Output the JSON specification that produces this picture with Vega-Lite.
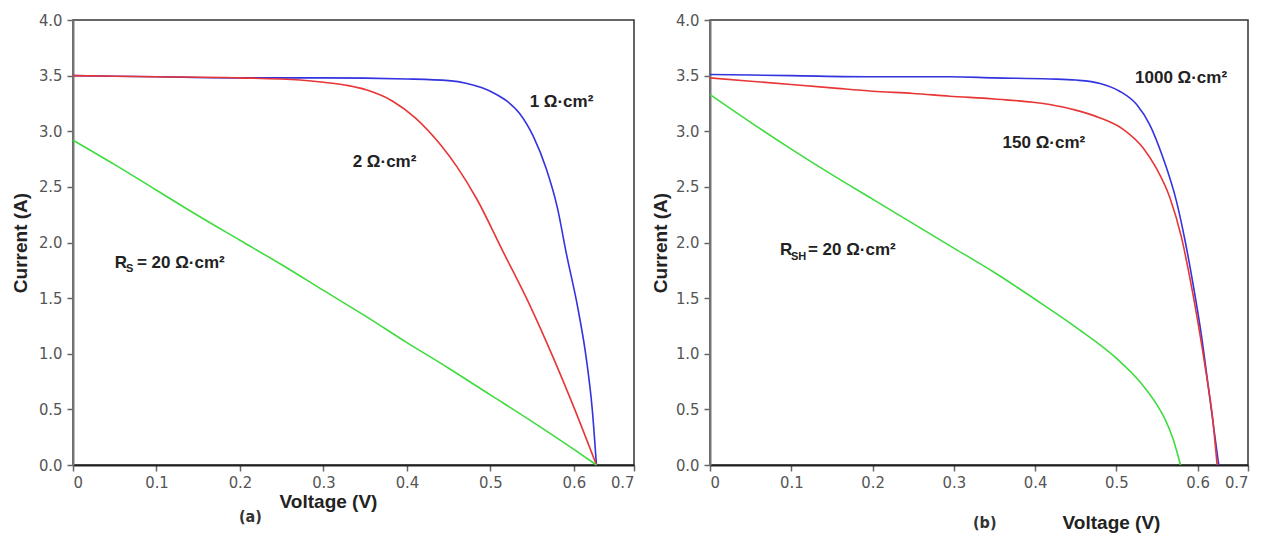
{
  "$schema": "https://vega.github.io/schema/vega-lite/v6.json",
  "background": "white",
  "padding": {"left": 10, "top": 11, "right": 0, "bottom": 0},
  "spacing": 76,
  "bounds": "flush",
  "resolve": {"scale": {"x": "independent", "y": "independent"}},
  "config": {
    "view": {"stroke": "#333", "strokeWidth": 1.5},
    "axis": {
      "grid": false,
      "labelFont": "DejaVu Sans Condensed",
      "labelFontSize": 16.5,
      "labelColor": "#555",
      "tickColor": "#666",
      "tickSize": 6,
      "tickWidth": 1.5,
      "domainColor": "#777",
      "domainWidth": 2,
      "titleFont": "Liberation Sans",
      "titleFontWeight": "bold",
      "titleFontSize": 19,
      "titleColor": "#222"
    },
    "title": {"font": "DejaVu Sans Condensed", "fontSize": 16, "fontWeight": "bold", "color": "#333"}
  },
  "datasets": {
    "curvesA": [
      {"series": "Rs1", "V": 0, "I": 3.5},
      {"series": "Rs1", "V": 0.1, "I": 3.49},
      {"series": "Rs1", "V": 0.2, "I": 3.48},
      {"series": "Rs1", "V": 0.3, "I": 3.48},
      {"series": "Rs1", "V": 0.4, "I": 3.47},
      {"series": "Rs1", "V": 0.45, "I": 3.455},
      {"series": "Rs1", "V": 0.472, "I": 3.43},
      {"series": "Rs1", "V": 0.49, "I": 3.39},
      {"series": "Rs1", "V": 0.505, "I": 3.34},
      {"series": "Rs1", "V": 0.52, "I": 3.27},
      {"series": "Rs1", "V": 0.535, "I": 3.16},
      {"series": "Rs1", "V": 0.551, "I": 2.96},
      {"series": "Rs1", "V": 0.567, "I": 2.66},
      {"series": "Rs1", "V": 0.58, "I": 2.32},
      {"series": "Rs1", "V": 0.591, "I": 1.9},
      {"series": "Rs1", "V": 0.605, "I": 1.4},
      {"series": "Rs1", "V": 0.615, "I": 0.95},
      {"series": "Rs1", "V": 0.622, "I": 0.5},
      {"series": "Rs1", "V": 0.627, "I": 0},
      {"series": "Rs2", "V": 0, "I": 3.5},
      {"series": "Rs2", "V": 0.1, "I": 3.49},
      {"series": "Rs2", "V": 0.2, "I": 3.48},
      {"series": "Rs2", "V": 0.272, "I": 3.46},
      {"series": "Rs2", "V": 0.3, "I": 3.44},
      {"series": "Rs2", "V": 0.33, "I": 3.41},
      {"series": "Rs2", "V": 0.352, "I": 3.37},
      {"series": "Rs2", "V": 0.383, "I": 3.27},
      {"series": "Rs2", "V": 0.41, "I": 3.12},
      {"series": "Rs2", "V": 0.44, "I": 2.88},
      {"series": "Rs2", "V": 0.46, "I": 2.68},
      {"series": "Rs2", "V": 0.483, "I": 2.4},
      {"series": "Rs2", "V": 0.515, "I": 1.92},
      {"series": "Rs2", "V": 0.547, "I": 1.44},
      {"series": "Rs2", "V": 0.575, "I": 0.97},
      {"series": "Rs2", "V": 0.601, "I": 0.5},
      {"series": "Rs2", "V": 0.627, "I": 0},
      {"series": "Rs20", "V": 0, "I": 2.92},
      {"series": "Rs20", "V": 0.05, "I": 2.7},
      {"series": "Rs20", "V": 0.1, "I": 2.47},
      {"series": "Rs20", "V": 0.15, "I": 2.24},
      {"series": "Rs20", "V": 0.2, "I": 2.02},
      {"series": "Rs20", "V": 0.25, "I": 1.8},
      {"series": "Rs20", "V": 0.3, "I": 1.57},
      {"series": "Rs20", "V": 0.35, "I": 1.34},
      {"series": "Rs20", "V": 0.4, "I": 1.1},
      {"series": "Rs20", "V": 0.45, "I": 0.87},
      {"series": "Rs20", "V": 0.5, "I": 0.63},
      {"series": "Rs20", "V": 0.55, "I": 0.39},
      {"series": "Rs20", "V": 0.6, "I": 0.14},
      {"series": "Rs20", "V": 0.627, "I": 0}
    ],
    "curvesB": [
      {"series": "Rsh1000", "V": 0, "I": 3.51},
      {"series": "Rsh1000", "V": 0.1, "I": 3.5},
      {"series": "Rsh1000", "V": 0.2, "I": 3.49},
      {"series": "Rsh1000", "V": 0.295, "I": 3.49},
      {"series": "Rsh1000", "V": 0.35, "I": 3.48},
      {"series": "Rsh1000", "V": 0.418, "I": 3.47},
      {"series": "Rsh1000", "V": 0.45, "I": 3.46},
      {"series": "Rsh1000", "V": 0.48, "I": 3.43},
      {"series": "Rsh1000", "V": 0.504, "I": 3.36},
      {"series": "Rsh1000", "V": 0.525, "I": 3.24},
      {"series": "Rsh1000", "V": 0.541, "I": 3.06},
      {"series": "Rsh1000", "V": 0.557, "I": 2.77},
      {"series": "Rsh1000", "V": 0.574, "I": 2.37},
      {"series": "Rsh1000", "V": 0.585, "I": 2.0},
      {"series": "Rsh1000", "V": 0.595, "I": 1.6},
      {"series": "Rsh1000", "V": 0.605, "I": 1.15},
      {"series": "Rsh1000", "V": 0.615, "I": 0.6},
      {"series": "Rsh1000", "V": 0.626, "I": 0},
      {"series": "Rsh150", "V": 0, "I": 3.48},
      {"series": "Rsh150", "V": 0.05, "I": 3.45},
      {"series": "Rsh150", "V": 0.1, "I": 3.42},
      {"series": "Rsh150", "V": 0.15, "I": 3.39},
      {"series": "Rsh150", "V": 0.2, "I": 3.36},
      {"series": "Rsh150", "V": 0.25, "I": 3.34},
      {"series": "Rsh150", "V": 0.295, "I": 3.315},
      {"series": "Rsh150", "V": 0.35, "I": 3.29},
      {"series": "Rsh150", "V": 0.418, "I": 3.24},
      {"series": "Rsh150", "V": 0.45, "I": 3.19},
      {"series": "Rsh150", "V": 0.48, "I": 3.12},
      {"series": "Rsh150", "V": 0.508, "I": 3.02},
      {"series": "Rsh150", "V": 0.533, "I": 2.85},
      {"series": "Rsh150", "V": 0.549, "I": 2.67},
      {"series": "Rsh150", "V": 0.566, "I": 2.4},
      {"series": "Rsh150", "V": 0.58, "I": 2.05},
      {"series": "Rsh150", "V": 0.59, "I": 1.7},
      {"series": "Rsh150", "V": 0.6, "I": 1.3},
      {"series": "Rsh150", "V": 0.61, "I": 0.85},
      {"series": "Rsh150", "V": 0.618, "I": 0.45},
      {"series": "Rsh150", "V": 0.624, "I": 0},
      {"series": "Rsh20", "V": 0, "I": 3.33},
      {"series": "Rsh20", "V": 0.05, "I": 3.08},
      {"series": "Rsh20", "V": 0.1, "I": 2.84},
      {"series": "Rsh20", "V": 0.15, "I": 2.61},
      {"series": "Rsh20", "V": 0.2, "I": 2.39},
      {"series": "Rsh20", "V": 0.25, "I": 2.17},
      {"series": "Rsh20", "V": 0.3, "I": 1.95},
      {"series": "Rsh20", "V": 0.35, "I": 1.73},
      {"series": "Rsh20", "V": 0.4, "I": 1.49},
      {"series": "Rsh20", "V": 0.45, "I": 1.24},
      {"series": "Rsh20", "V": 0.5, "I": 0.96},
      {"series": "Rsh20", "V": 0.53, "I": 0.74},
      {"series": "Rsh20", "V": 0.55, "I": 0.54},
      {"series": "Rsh20", "V": 0.56, "I": 0.41},
      {"series": "Rsh20", "V": 0.57, "I": 0.23},
      {"series": "Rsh20", "V": 0.579, "I": 0}
    ],
    "labelsA": [
      {"V": 0.547, "I": 3.26, "text": "1 Ω·cm²", "role": "main"},
      {"V": 0.335, "I": 2.72, "text": "2 Ω·cm²", "role": "main"},
      {"V": 0.05, "I": 1.82, "text": "R", "role": "main"},
      {"V": 0.0635, "I": 1.76, "text": "S", "role": "sub"},
      {"V": 0.0766, "I": 1.82, "text": "= 20 Ω·cm²", "role": "main"}
    ],
    "labelsB": [
      {"V": 0.523, "I": 3.48, "text": "1000 Ω·cm²", "role": "main"},
      {"V": 0.36, "I": 2.89, "text": "150 Ω·cm²", "role": "main"},
      {"V": 0.086, "I": 1.93, "text": "R", "role": "main"},
      {"V": 0.0996, "I": 1.87, "text": "SH", "role": "sub"},
      {"V": 0.1205, "I": 1.93, "text": "= 20 Ω·cm²", "role": "main"}
    ]
  },
  "hconcat": [
    {
      "width": 561,
      "height": 445,
      "title": {"text": "(a)", "orient": "bottom", "anchor": "start", "frame": "group", "offset": -2, "dx": 166},
      "resolve": {"scale": {"x": "shared", "y": "shared"}},
      "layer": [
        {
          "data": {"name": "curvesA"},
          "mark": {"type": "line", "strokeWidth": 1.6, "interpolate": "monotone"},
          "encoding": {
            "x": {"field": "V", "type": "quantitative",
                  "scale": {"domain": [0, 0.672], "nice": false, "zero": false},
                  "axis": {"title": "Voltage (V)", "values": [0, 0.1, 0.2, 0.3, 0.4, 0.5, 0.6, 0.672],
                           "labelExpr": "datum.value == 0 ? '0' : datum.value > 0.65 ? '0.7' : format(datum.value, '.1f')",
                           "labelPadding": 3, "domainColor": "#222", "titleX": 255, "titleY": 36, "titleBaseline": "middle"}},
            "y": {"field": "I", "type": "quantitative",
                  "scale": {"domain": [0, 4], "nice": false},
                  "axis": {"title": "Current (A)", "values": [0, 0.5, 1, 1.5, 2, 2.5, 3, 3.5, 4], "format": ".1f",
                           "labelPadding": 5, "titleX": -53, "titleBaseline": "middle"}},
            "color": {"field": "series", "type": "nominal", "legend": null,
                      "scale": {"domain": ["Rs20", "Rs2", "Rs1", "Rsh20", "Rsh150", "Rsh1000"],
                                "range": ["#3fdc3f", "#e83535", "#3333e0", "#3fdc3f", "#e83535", "#3333e0"]}},
            "order": {"field": "V", "type": "quantitative"}
          }
        },
        {
          "data": {"name": "labelsA"},
          "transform": [{"filter": "datum.role == 'main'"}],
          "mark": {"type": "text", "align": "left", "baseline": "middle", "font": "Liberation Sans", "fontWeight": "bold", "fontSize": 17, "color": "#222"},
          "encoding": {
            "x": {"field": "V", "type": "quantitative"},
            "y": {"field": "I", "type": "quantitative"},
            "text": {"field": "text"}
          }
        },
        {
          "data": {"name": "labelsA"},
          "transform": [{"filter": "datum.role == 'sub'"}],
          "mark": {"type": "text", "align": "left", "baseline": "middle", "font": "Liberation Sans", "fontWeight": "bold", "fontSize": 11, "color": "#222"},
          "encoding": {
            "x": {"field": "V", "type": "quantitative"},
            "y": {"field": "I", "type": "quantitative"},
            "text": {"field": "text"}
          }
        }
      ]
    },
    {
      "width": 538,
      "height": 445,
      "title": {"text": "(b)", "orient": "bottom", "anchor": "start", "frame": "group", "offset": -17, "dx": 263},
      "resolve": {"scale": {"x": "shared", "y": "shared"}},
      "layer": [
        {
          "data": {"name": "curvesB"},
          "mark": {"type": "line", "strokeWidth": 1.6, "interpolate": "monotone"},
          "encoding": {
            "x": {"field": "V", "type": "quantitative",
                  "scale": {"domain": [0, 0.662], "nice": false, "zero": false},
                  "axis": {"title": "Voltage (V)", "values": [0, 0.1, 0.2, 0.3, 0.4, 0.5, 0.6, 0.662],
                           "labelExpr": "datum.value == 0 ? '0' : datum.value > 0.65 ? '0.7' : format(datum.value, '.1f')",
                           "labelPadding": 3, "domainColor": "#222", "titleX": 401, "titleY": 57, "titleBaseline": "middle"}},
            "y": {"field": "I", "type": "quantitative",
                  "scale": {"domain": [0, 4], "nice": false},
                  "axis": {"title": "Current (A)", "values": [0, 0.5, 1, 1.5, 2, 2.5, 3, 3.5, 4], "format": ".1f",
                           "labelPadding": 5, "titleX": -50, "titleBaseline": "middle"}},
            "color": {"field": "series", "type": "nominal", "legend": null,
                      "scale": {"domain": ["Rs20", "Rs2", "Rs1", "Rsh20", "Rsh150", "Rsh1000"],
                                "range": ["#3fdc3f", "#e83535", "#3333e0", "#3fdc3f", "#e83535", "#3333e0"]}},
            "order": {"field": "V", "type": "quantitative"}
          }
        },
        {
          "data": {"name": "labelsB"},
          "transform": [{"filter": "datum.role == 'main'"}],
          "mark": {"type": "text", "align": "left", "baseline": "middle", "font": "Liberation Sans", "fontWeight": "bold", "fontSize": 17, "color": "#222"},
          "encoding": {
            "x": {"field": "V", "type": "quantitative"},
            "y": {"field": "I", "type": "quantitative"},
            "text": {"field": "text"}
          }
        },
        {
          "data": {"name": "labelsB"},
          "transform": [{"filter": "datum.role == 'sub'"}],
          "mark": {"type": "text", "align": "left", "baseline": "middle", "font": "Liberation Sans", "fontWeight": "bold", "fontSize": 11, "color": "#222"},
          "encoding": {
            "x": {"field": "V", "type": "quantitative"},
            "y": {"field": "I", "type": "quantitative"},
            "text": {"field": "text"}
          }
        }
      ]
    }
  ]
}
